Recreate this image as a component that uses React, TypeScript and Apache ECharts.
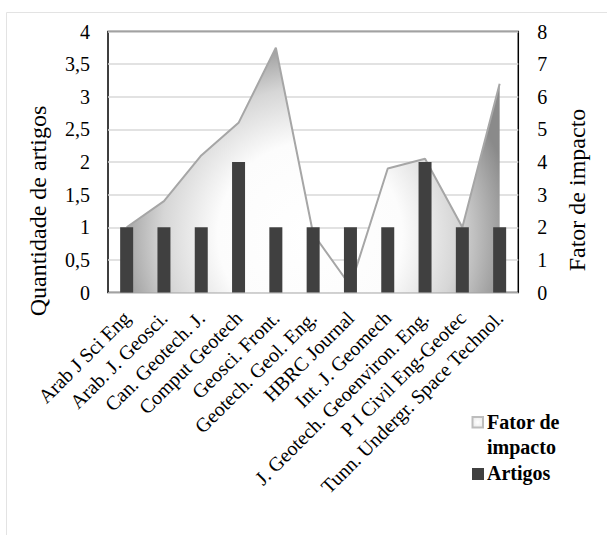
import React, { useEffect, useRef } from "react";
import * as echarts from "echarts";

const categories = [
  "Arab J Sci Eng",
  "Arab. J. Geosci.",
  "Can. Geotech. J.",
  "Comput Geotech",
  "Geosci. Front.",
  "Geotech. Geol. Eng.",
  "HBRC Journal",
  "Int. J. Geomech",
  "J. Geotech. Geoenviron. Eng.",
  "P I Civil Eng-Geotec",
  "Tunn. Undergr. Space Technol.",
];
const artigos = [1, 1, 1, 2, 1, 1, 1, 1, 2, 1, 1];
const fatorImpacto = [2.0, 2.8, 4.2, 5.2, 7.5, 1.8, 0.2, 3.8, 4.1, 2.0, 6.4];

const leftAxis = { min: 0, max: 4, interval: 0.5 };
const rightAxis = { min: 0, max: 8, interval: 1 };

const seriesNames = { fator: "Fator de impacto", artigos: "Artigos" };
const axisTitles = { left: "Quantidade de artigos", right: "Fator de impacto" };

const FONT = "Liberation Serif";

export default function App() {
  const ref = useRef<HTMLDivElement>(null);

  useEffect(() => {
    if (!ref.current) return;
    const chart = echarts.init(ref.current, undefined, { renderer: "svg" });

    const areaGradient = new echarts.graphic.RadialGradient(
      310,
      235,
      205,
      [
        { offset: 0, color: "#ffffff" },
        { offset: 0.45, color: "#fcfcfc" },
        { offset: 0.72, color: "#d6d6d6" },
        { offset: 1, color: "#8a8a8a" },
      ],
      true
    );

    const iconGradient = new echarts.graphic.RadialGradient(0.5, 0.5, 0.7, [
      { offset: 0, color: "#ffffff" },
      { offset: 1, color: "#e6e6e6" },
    ]);

    const textStyle = (text: string, size: number, bold = false, align = "center") => ({
      text,
      font: (bold ? "bold " : "") + size + "px " + FONT,
      fill: "#000",
      align,
      verticalAlign: "middle",
    });

    chart.setOption({
      animation: false,
      backgroundColor: "#ffffff",
      grid: {
        left: 108,
        top: 31.5,
        right: 88.7,
        bottom: 242.5,
        show: true,
        borderColor: "#000000",
        borderWidth: 1.5,
        backgroundColor: "transparent",
      },
      xAxis: {
        type: "category",
        data: categories,
        boundaryGap: true,
        axisLine: { show: false },
        axisTick: { show: false },
        splitLine: { show: false },
        axisLabel: {
          interval: 0,
          rotate: 45,
          margin: 22,
          color: "#000",
          fontFamily: FONT,
          fontSize: 20,
        },
      },
      yAxis: [
        {
          type: "value",
          min: leftAxis.min,
          max: leftAxis.max,
          interval: leftAxis.interval,
          axisLine: { show: false },
          axisTick: { show: false },
          splitLine: { show: true, lineStyle: { color: "#d9d9d9", width: 1.5 } },
          axisLabel: {
            margin: 18,
            color: "#000",
            fontFamily: FONT,
            fontSize: 20,
            formatter: (v: number) => String(v).replace(".", ","),
          },
        },
        {
          type: "value",
          min: rightAxis.min,
          max: rightAxis.max,
          interval: rightAxis.interval,
          position: "right",
          axisLine: { show: false },
          axisTick: { show: false },
          splitLine: { show: false },
          axisLabel: {
            margin: 19,
            color: "#000",
            fontFamily: FONT,
            fontSize: 20,
          },
        },
      ],
      series: [
        {
          name: seriesNames.fator,
          type: "line",
          yAxisIndex: 1,
          data: fatorImpacto,
          showSymbol: false,
          symbol: "none",
          z: 2,
          lineStyle: { color: "#a6a6a6", width: 2 },
          itemStyle: { color: "#a6a6a6" },
          areaStyle: { color: areaGradient, opacity: 1 },
        },
        {
          name: seriesNames.artigos,
          type: "bar",
          yAxisIndex: 0,
          data: artigos,
          barWidth: 13,
          z: 3,
          itemStyle: { color: "#404040" },
        },
      ],
      graphic: [
        {
          type: "rect",
          silent: true,
          z: -10,
          shape: { x: 6.5, y: 12.5, width: 640, height: 560 },
          style: { fill: "none", stroke: "#e3e3e3", lineWidth: 1 },
        },
        {
          type: "text",
          silent: true,
          x: 38,
          y: 211,
          rotation: Math.PI / 2,
          style: textStyle(axisTitles.left, 24),
        },
        {
          type: "text",
          silent: true,
          x: 577,
          y: 190,
          rotation: Math.PI / 2,
          style: textStyle(axisTitles.right, 24),
        },
        {
          type: "rect",
          silent: true,
          shape: { x: 472.5, y: 417, width: 10.5, height: 10.5 },
          style: { fill: iconGradient, stroke: "#bdbdbd", lineWidth: 2 },
        },
        {
          type: "text",
          silent: true,
          x: 487,
          y: 422,
          style: textStyle("Fator de", 20, true, "left"),
        },
        {
          type: "text",
          silent: true,
          x: 487,
          y: 447,
          style: textStyle("impacto", 20, true, "left"),
        },
        {
          type: "rect",
          silent: true,
          shape: { x: 472, y: 468, width: 12, height: 12 },
          style: { fill: "#404040" },
        },
        {
          type: "text",
          silent: true,
          x: 487,
          y: 473,
          style: textStyle(seriesNames.artigos, 20, true, "left"),
        },
      ],
    });

    return () => chart.dispose();
  }, []);

  return (
    <div
      ref={ref}
      style={{ position: "absolute", left: 0, top: 0, width: 607, height: 535 }}
    />
  );
}
